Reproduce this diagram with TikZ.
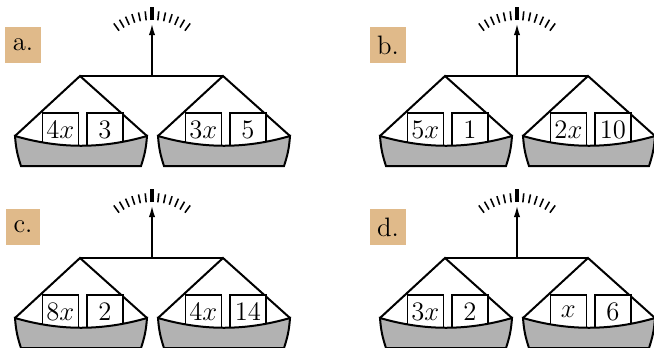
\documentclass[tikz,border=0pt]{standalone}
\usepackage{amsmath}
\usepackage{xcolor}
\usepackage{tikz}
\usetikzlibrary{arrows.meta,positioning,calc}
\definecolor{cTag}{RGB}{224,186,138}
\definecolor{cPan}{RGB}{178,178,178}
\tikzset{
  tag/.style={fill=cTag, font=\large, minimum height=16.2pt, inner xsep=3.4pt, inner ysep=0pt},
  wt/.style={draw, fill=white, minimum width=16.2pt, minimum height=15.6pt, inner sep=0pt,
             line width=0.8pt, font=\large},
  pan/.style={draw, fill=cPan, line width=0.9pt},
  rope/.style={line width=0.9pt},
  arr/.style={-{Latex[length=5.4pt,width=2.8pt]}, line width=0.9pt},
  tick/.style={line width=0.7pt},
  bigtick/.style={line width=1.7pt},
}
% one balance: shift, tag, left weights, right weights
\newcommand{\balance}[6]{%
  \begin{scope}[shift={#1}]
    \node[tag] (lbl) at (23,45) {#2};
    \coordinate (piv) at (152,76);
    \coordinate (tip) at (152,23);
    \coordinate (hl) at (80,76);
    \coordinate (hr) at (223,76);
    % ---- dial ----
    \foreach \a in {-126,-120,...,-54}
      \draw[tick, shift={(piv)}] (\a:56) -- (\a:65);
    \draw[bigtick, shift={(piv)}] (-90:56) -- (-90:69);
    \draw[arr] (piv) -- (tip);
    \draw[rope] (hl) -- (hr);
    % ---- left pan ----
    \draw[rope] (15,136) -- (hl) -- (147,136);
    \node[wt, anchor=north west] (l1) at (41.5,112) {$#3$};
    \node[wt, right=3pt of l1] (l2) {$#4$};
    \draw[pan] (15,136) .. controls (60,149) and (102,149) .. (147,136)
      to[bend left=7] (141,166) -- (21,166) to[bend left=7] (15,136) -- cycle;
    % ---- right pan ----
    \draw[rope] (158,136) -- (hr) -- (290,136);
    \node[wt, anchor=north west] (r1) at (184.5,112) {$#5$};
    \node[wt, right=3pt of r1] (r2) {$#6$};
    \draw[pan] (158,136) .. controls (203,149) and (245,149) .. (290,136)
      to[bend left=7] (284,166) -- (164,166) to[bend left=7] (158,136) -- cycle;
  \end{scope}}

\begin{document}
\begin{tikzpicture}[x=0.45pt, y=-0.45pt]
  \useasboundingbox (0,0) rectangle (654,347);
  \balance{(0,0)}{a.}{4x}{3}{3x}{5}
  \balance{(365,0)}{b.}{5x}{1}{2x}{10}
  \balance{(0,182)}{c.}{8x}{2}{4x}{14}
  \balance{(365,182)}{d.}{3x}{2}{x}{6}
\end{tikzpicture}
\end{document}
